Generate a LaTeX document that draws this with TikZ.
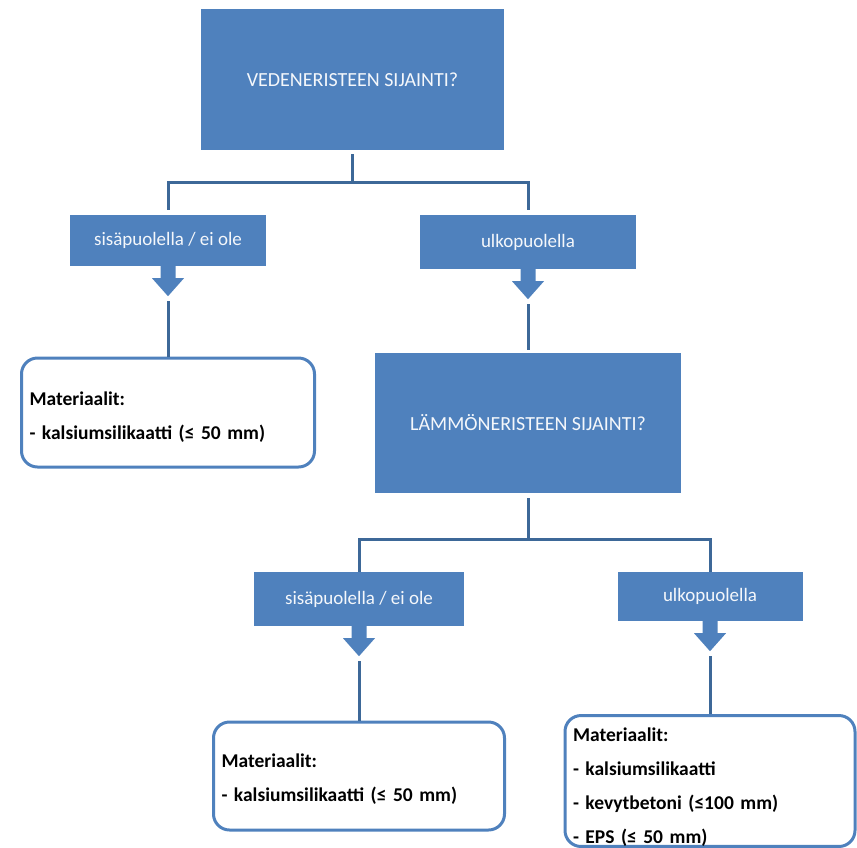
\documentclass[tikz,border=0pt]{standalone}
\usepackage{fontspec}
\setmainfont{Carlito}
\usetikzlibrary{calc}
\definecolor{boxblue}{HTML}{4F81BD}
\definecolor{lineblue}{HTML}{3D6898}
\definecolor{boxtext}{HTML}{F4F7FB}
\newcommand\callarrow[2]{%
  \fill[boxblue] ($(#1.south)+(-7.5,-1)$) -- ++(0,13) -- ++(-8.5,0) -- ++(16,18) -- ++(16,-18) -- ++(-8.5,0) -- ++(0,-13) -- cycle;
  \coordinate (#2) at ($(#1.south)+(0,30)$);}
\begin{document}
\begin{tikzpicture}[x=1pt,y=-1pt,
  qbox/.style={rectangle, fill=boxblue, text=boxtext, font=\fontsize{20}{24}\selectfont, inner sep=0pt},
  abox/.style={qbox, font=\fontsize{19}{23}\selectfont},
  matbox/.style={rectangle, rounded corners=16pt, draw=boxblue, line width=3pt, fill=white, align=left, font=\bfseries\fontsize{19.5}{34}\selectfont, inner xsep=8pt, inner ysep=0pt},
  conn/.style={draw=lineblue, line width=3pt}]
\useasboundingbox (0,0) rectangle (857,847);
% question boxes
\node[qbox, minimum width=303pt, minimum height=141pt] (q1) at (352.5,79.5) {VEDENERISTEEN SIJAINTI?};
\node[qbox, minimum width=306pt, minimum height=140pt] (q2) at (528,423) {LÄMMÖNERISTEEN SIJAINTI?};
% answer callouts
\node[abox, minimum width=196pt, minimum height=51pt] (a1) at (168,240.5) {sisäpuolella / ei ole};
\node[abox, minimum width=216pt, minimum height=54pt] (b1) at (528,242) {ulkopuolella};
\node[abox, minimum width=210pt, minimum height=54pt] (a2) at (359,599) {sisäpuolella / ei ole};
\node[abox, minimum width=185pt, minimum height=49pt] (b2) at (710,596.5) {ulkopuolella};
\callarrow{a1}{a1t}
\callarrow{b1}{b1t}
\callarrow{a2}{a2t}
\callarrow{b2}{b2t}
% material boxes
\node[matbox, minimum width=293pt, minimum height=109pt, text width=277pt] (m1) at (168,412.5) {\rule{0pt}{22pt}Materiaalit:\\- kalsiumsilikaatti (≤ 50 mm)};
\node[matbox, minimum width=291pt, minimum height=108pt, text width=275pt] (m2) at (359,776) {\rule{0pt}{19pt}Materiaalit:\\- kalsiumsilikaatti (≤ 50 mm)};
\node[matbox, minimum width=290pt, minimum height=130pt, text width=274pt] (m3) at (710,781) {\rule{0pt}{26pt}Materiaalit:\\- kalsiumsilikaatti\\- kevytbetoni (≤100 mm)\\- EPS (≤ 50 mm)};
% connectors
\draw[conn, shorten <=4pt, shorten >=5pt] (q1.south) -- ++(0,32) -| (a1.north);
\draw[conn, shorten <=4pt, shorten >=5pt] (q1.south) -- ++(0,32) -| (b1.north);
\draw[conn, shorten <=5pt] (q2.south) -- ++(0,46) -| (a2.north);
\draw[conn, shorten <=5pt] (q2.south) -- ++(0,46) -| (b2.north);
\draw[conn, shorten <=5pt] (a1t) -- (a1t |- m1.north);
\draw[conn, shorten <=5pt, shorten >=3pt] (b1t) -- (b1t |- q2.north);
\draw[conn, shorten <=5pt] (a2t) -- (a2t |- m2.north);
\draw[conn, shorten <=5pt] (b2t) -- (b2t |- m3.north);
\end{tikzpicture}
\end{document}
